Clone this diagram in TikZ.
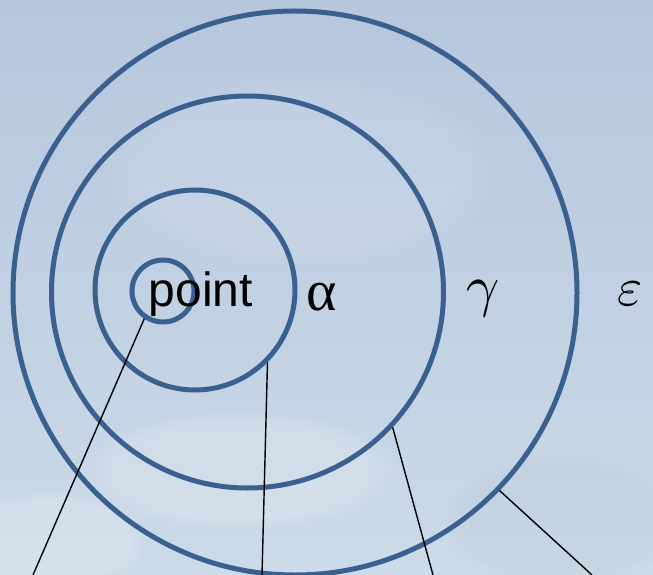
\documentclass[tikz,border=0pt]{standalone}
\usepackage{graphicx}
\usepackage{fontspec}
\newfontfamily\labelsans{Liberation Sans}
\newfontfamily\labelserif{Liberation Serif}
\usetikzlibrary{fadings}
\definecolor{skytop}{RGB}{182,198,221}
\definecolor{skybot}{RGB}{204,219,232}
\definecolor{ringblue}{RGB}{58,96,144}
\tikzset{
  ring/.style={circle, draw=ringblue, line width=5pt, inner sep=0pt, fill=none},
  link/.style={draw=black, line width=1.4pt},
  cloud/.style={fill=white, path fading=circle with fuzzy edge 20 percent},
}
\begin{document}
\begin{tikzpicture}[x=1pt,y=-1pt]
\useasboundingbox (0,0) rectangle (653,575);
% sky background
\shade[top color=skytop, bottom color=skybot] (0,0) rectangle (653,575);
\fill[cloud, opacity=0.18] (240,470) ellipse (160 and 60);
\fill[cloud, opacity=0.18] (50,540) ellipse (100 and 50);
\fill[cloud, opacity=0.10] (300,170) ellipse (200 and 100);
\fill[skytop!70!black, path fading=circle with fuzzy edge 20 percent, opacity=0.06] (560,520) ellipse (120 and 70);
% rings
\node[ring, minimum size=62pt]  (c1) at (163,291) {};
\node[ring, minimum size=200pt] (c2) at (195,290) {};
\node[ring, minimum size=392pt] (c3) at (247.5,292) {};
\node[ring, minimum size=564pt] (c4) at (295,293) {};
% labels
\node[anchor=base, inner sep=0pt, font=\labelsans\fontsize{48}{56}\selectfont] (tpoint) at (201,306) {point};
\node[anchor=base, inner sep=0pt, font=\labelserif\fontsize{58}{64}\selectfont] (talpha) at (322,310) {α};
\node[anchor=base, inner sep=0pt] (tgamma) at (483,305) {\scalebox{5.8}{$\gamma$}};
\node[anchor=base, inner sep=0pt] (teps) at (630,305) {\scalebox{5.4}{$\varepsilon$}};
% free ends
\coordinate (e1) at (33,575);
\coordinate (e2) at (262,575);
\coordinate (e3) at (433,575);
\coordinate (e4) at (592,575);
% connectors
\draw[link] (c1.236) -- (e1);
\draw[link] (c2.-45.8) -- (e2);
\draw[link] (c3.-43.7) -- (e3);
\draw[link] (c4.-44.7) -- (e4);
\end{tikzpicture}
\end{document}
